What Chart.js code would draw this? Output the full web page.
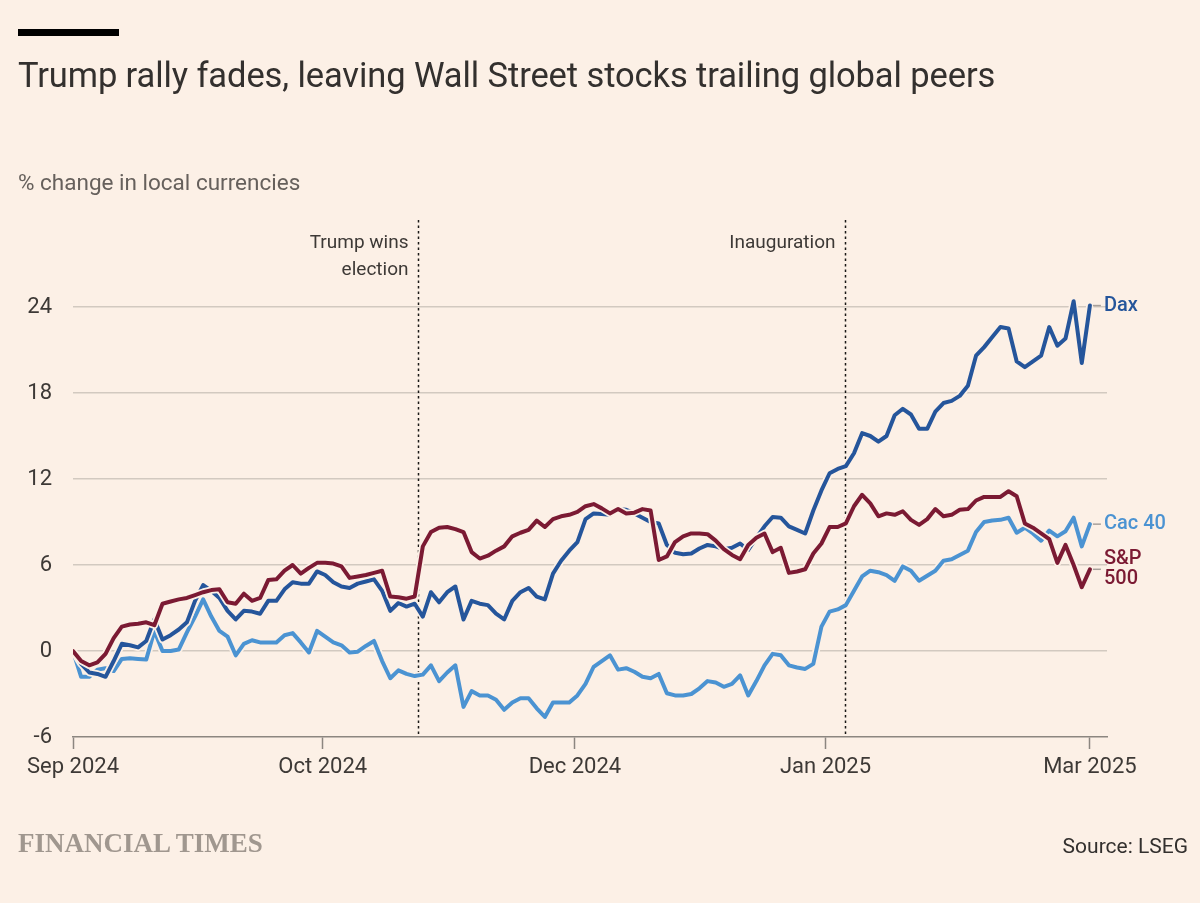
<!DOCTYPE html>
<html>
<head>
<meta charset="utf-8">
<title>Trump rally fades</title>
<script src="https://cdn.jsdelivr.net/npm/chart.js@4.4.1/dist/chart.umd.min.js"></script>
<style>
    body { margin: 0; background: #fcf0e6; }
    #wrap { position: relative; width: 1200px; height: 903px; overflow: hidden; background: #fcf0e6; }
    #wrap canvas { position: absolute; left: 0; top: 0; }
    .bar { position: absolute; left: 18px; top: 29px; width: 101px; height: 7px; background: #000; }
    .title { position: absolute; left: 18px; top: 58px; font: 400 34.5px/1 Roboto, sans-serif; color: #33302e; white-space: nowrap; letter-spacing: -0.1px; }
    .sub { position: absolute; left: 18px; top: 171px; font: 400 22.5px/1 Roboto, sans-serif; color: #66605c; white-space: nowrap; }
    .logo { position: absolute; left: 18px; top: 830px; font: 700 27px/1 "Liberation Serif", serif; color: #a0978f; letter-spacing: 0px; white-space: nowrap; }
    .source { position: absolute; right: 12px; top: 836px; font: 400 21px/1 Roboto, sans-serif; color: #33302e; white-space: nowrap; }
</style>
</head>
<body>
<div id="wrap">
    <canvas id="myChart" width="1200" height="903"></canvas>
    <div class="bar"></div>
    <div class="title">Trump rally fades, leaving Wall Street stocks trailing global peers</div>
    <div class="sub">% change in local currencies</div>
    <div class="logo">FINANCIAL TIMES</div>
    <div class="source">Source: LSEG</div>
</div>
<script>
// Data: % change since start, one value per trading day
const dax = [0, -0.9, -1.5, -1.6, -1.8, -0.7, 0.5, 0.4, 0.25, 0.7,
    2.2, 0.8, 1.1, 1.5, 2.0, 3.5, 4.6, 4.2, 3.7, 2.8,
    2.2, 2.8, 2.75, 2.6, 3.5, 3.5, 4.3, 4.8, 4.7, 4.7,
    5.55, 5.3, 4.8, 4.5, 4.4, 4.7, 4.85, 5.0, 4.2, 2.8,
    3.35, 3.1, 3.3, 2.4, 4.1, 3.4, 4.1, 4.5, 2.2, 3.5,
    3.3, 3.2, 2.6, 2.2, 3.5, 4.1, 4.4, 3.8, 3.6, 5.4,
    6.3, 7.0, 7.6, 9.2, 9.6, 9.55, 9.5, 9.9, 9.85, 9.6,
    9.3, 9.0, 8.9, 7.4, 6.85, 6.75, 6.8, 7.15, 7.4, 7.3,
    7.1, 7.2, 7.5, 7.05, 7.9, 8.7, 9.35, 9.3, 8.7, 8.45,
    8.2, 9.8, 11.2, 12.4, 12.7, 12.9, 13.8, 15.2, 15.0, 14.6,
    15.0, 16.45, 16.9, 16.5, 15.5, 15.5, 16.7, 17.3, 17.45, 17.8,
    18.5, 20.6, 21.2, 21.9, 22.6, 22.5, 20.2, 19.8, 20.2, 20.6,
    22.6, 21.3, 21.8, 24.4, 20.1, 24.1];

const sp500 = [0, -0.7, -1.0, -0.8, -0.2, 0.9, 1.7, 1.85, 1.9, 2.0,
    1.8, 3.3, 3.45, 3.6, 3.7, 3.9, 4.1, 4.25, 4.3, 3.4,
    3.3, 4.0, 3.5, 3.7, 4.95, 5.0, 5.6, 6.0, 5.4, 5.8,
    6.15, 6.15, 6.1, 5.9, 5.1, 5.2, 5.3, 5.45, 5.6, 3.8,
    3.75, 3.65, 3.8, 7.3, 8.3, 8.6, 8.65, 8.5, 8.3, 6.9,
    6.45, 6.65, 7.0, 7.3, 8.0, 8.25, 8.45, 9.1, 8.65, 9.2,
    9.4, 9.5, 9.7, 10.1, 10.25, 9.95, 9.6, 9.9, 9.6, 9.65,
    9.9, 9.8, 6.35, 6.6, 7.6, 8.0, 8.2, 8.2, 8.15, 7.7,
    7.1, 6.7, 6.4, 7.4, 7.9, 8.2, 6.9, 7.2, 5.45, 5.55,
    5.7, 6.8, 7.5, 8.65, 8.65, 8.9, 10.1, 10.9, 10.3, 9.4,
    9.6, 9.5, 9.75, 9.15, 8.8, 9.2, 9.9, 9.4, 9.5, 9.85,
    9.9, 10.5, 10.75, 10.75, 10.75, 11.15, 10.8, 8.9, 8.6, 8.2,
    7.8, 6.15, 7.4, 6.0, 4.45, 5.7];

const cac40 = [0, -1.8, -1.8, -1.3, -1.2, -1.4, -0.55, -0.5, -0.55, -0.6,
    1.4, 0.0, 0.0, 0.1, 1.3, 2.4, 3.6, 2.4, 1.4, 1.0,
    -0.3, 0.5, 0.75, 0.6, 0.6, 0.6, 1.1, 1.25, 0.6, -0.1,
    1.4, 1.0, 0.6, 0.4, -0.1, -0.05, 0.35, 0.7, -0.7, -1.9,
    -1.35, -1.6, -1.75, -1.65, -1.0, -2.1, -1.5, -1.0, -3.9, -2.8,
    -3.1, -3.1, -3.4, -4.1, -3.6, -3.3, -3.3, -4.0, -4.6, -3.6,
    -3.6, -3.6, -3.1, -2.3, -1.1, -0.7, -0.3, -1.3, -1.2, -1.45,
    -1.8, -1.9, -1.6, -2.95, -3.1, -3.1, -3.0, -2.6, -2.1, -2.2,
    -2.5, -2.3, -1.7, -3.1, -2.1, -1.0, -0.2, -0.3, -1.0, -1.15,
    -1.25, -0.9, 1.7, 2.75, 2.9, 3.2, 4.2, 5.2, 5.6, 5.5,
    5.3, 4.9, 5.9, 5.6, 4.9, 5.25, 5.6, 6.3, 6.4, 6.7,
    7.0, 8.3, 9.0, 9.1, 9.15, 9.3, 8.25, 8.6, 8.2, 7.7,
    8.4, 8.0, 8.35, 9.3, 7.3, 8.85];

// Sumbu x: posisi label tanggal (dalam hari bursa) dan teksnya
const xTickPos = [0, 30.7, 61.7, 92.5, 125];
const xTickLabels = ['Sep 2024', 'Oct 2024', 'Dec 2024', 'Jan 2025', 'Mar 2025'];
const yTicks = [-6, 0, 6, 12, 18, 24];

// Garis peristiwa
const eventPos = [42.4, 94.9];
const eventLabels = [['Trump wins', 'election'], ['Inauguration']];

const series = [
    { name: ['S&P', '500'], data: sp500, color: '#7b1a33' },
    { name: ['Dax'], data: dax, color: '#25559b' },
    { name: ['Cac 40'], data: cac40, color: '#4b93d2' }
];

const paper = '#fcf0e6';
const gridColor = '#d2c9c0';
const axisColor = '#8c8680';
const textColor = '#3d3936';

// Dataset: setiap seri punya garis "halo" warna kertas di bawahnya
const datasets = [];
series.forEach((s, k) => {
    const pts = s.data.map((v, i) => ({ x: i, y: v }));
    datasets.push({ data: pts, borderColor: s.color, borderWidth: 4, order: k * 2 + 1 });
    datasets.push({ data: pts, borderColor: paper, borderWidth: 7.5, order: k * 2 + 2 });
});

// Plugin untuk garis peristiwa dan label seri
const ftPlugin = {
    id: 'ftLabels',
    beforeDatasetsDraw(chart) {
        const { ctx, chartArea, scales: { x } } = chart;
        ctx.save();
        ctx.strokeStyle = '#1a1817';
        ctx.lineWidth = 1.5;
        ctx.setLineDash([2.5, 3]);
        ctx.font = '400 19px Roboto, sans-serif';
        ctx.fillStyle = textColor;
        ctx.textAlign = 'right';
        ctx.textBaseline = 'alphabetic';
        eventPos.forEach((p, k) => {
            const px = Math.round(x.getPixelForValue(p)) + 0.5;
            ctx.beginPath();
            ctx.moveTo(px, chartArea.top - 1);
            ctx.lineTo(px, chartArea.bottom);
            ctx.stroke();
            eventLabels[k].forEach((t, j) => {
                ctx.fillText(t, px - 10, chartArea.top + 27 + j * 27);
            });
        });
        ctx.restore();
    },
    afterDatasetsDraw(chart) {
        const { ctx, scales: { x, y } } = chart;
        ctx.save();
        ctx.font = '500 20px Roboto, sans-serif';
        ctx.textAlign = 'left';
        ctx.textBaseline = 'middle';
        series.forEach(s => {
            const last = s.data.length - 1;
            const px = x.getPixelForValue(last);
            const py = y.getPixelForValue(s.data[last]);
            ctx.strokeStyle = '#a8a09a';
            ctx.lineWidth = 1.5;
            ctx.beginPath();
            ctx.moveTo(px + 3, py);
            ctx.lineTo(px + 11, py);
            ctx.stroke();
            ctx.fillStyle = s.color;
            const off = (s.name.length - 1) * 10;
            s.name.forEach((t, j) => ctx.fillText(t, px + 14, py - off + j * 20));
        });
        ctx.restore();
    }
};

const ctx = document.getElementById('myChart').getContext('2d');
const myChart = new Chart(ctx, {
    type: 'line',
    data: { datasets: datasets },
    options: {
        responsive: false,
        animation: false,
        events: [],
        layout: { padding: { top: 221, right: 93, bottom: 116, left: 0 } },
        elements: {
            point: { radius: 0 },
            line: { tension: 0, borderJoinStyle: 'round', borderCapStyle: 'round' }
        },
        plugins: { legend: { display: false }, tooltip: { enabled: false } },
        scales: {
            x: {
                type: 'linear',
                min: 0,
                max: 127.1,
                afterFit(s) { s.height = 50; },
                afterBuildTicks(s) { s.ticks = xTickPos.map(v => ({ value: v })); },
                border: { display: true, color: axisColor, width: 1.5 },
                grid: { drawOnChartArea: false, drawTicks: true, tickLength: 12, tickColor: axisColor, tickWidth: 1.5 },
                ticks: {
                    autoSkip: false,
                    maxRotation: 0,
                    padding: 5,
                    color: textColor,
                    font: { family: 'Roboto', size: 22 },
                    callback: (v, i) => xTickLabels[i]
                }
            },
            y: {
                min: -6,
                max: 30,
                afterFit(s) { s.width = 73; },
                afterBuildTicks(s) { s.ticks = yTicks.map(v => ({ value: v })); },
                border: { display: false },
                grid: {
                    drawTicks: false,
                    lineWidth: 1.5,
                    color: c => (c.tick && c.tick.value === -6) ? 'rgba(0,0,0,0)' : gridColor
                },
                ticks: {
                    padding: 21,
                    color: textColor,
                    font: { family: 'Roboto', size: 22 }
                }
            }
        }
    },
    plugins: [ftPlugin]
});
</script>
</body>
</html>
